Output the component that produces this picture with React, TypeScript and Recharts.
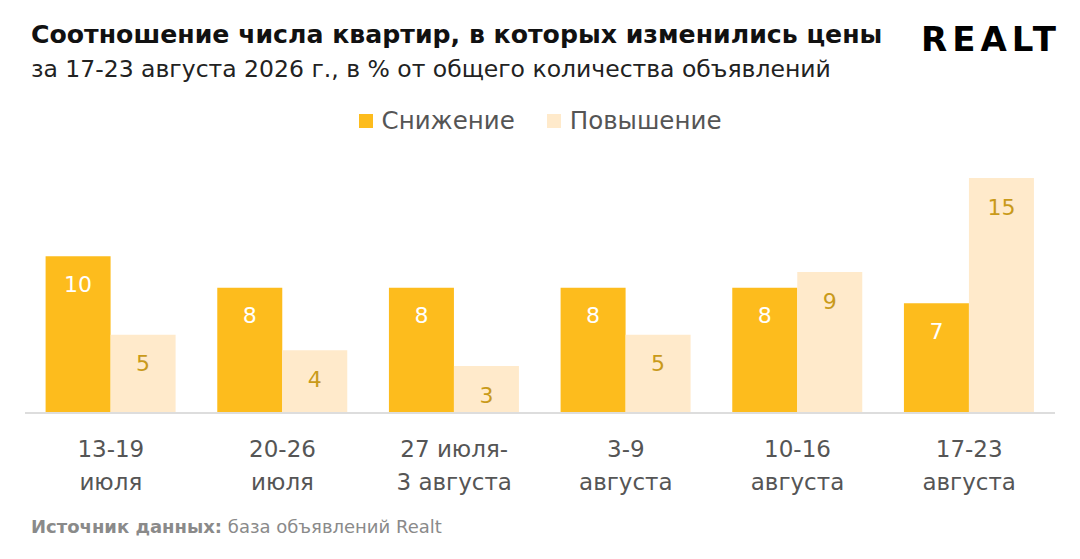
import React from "react"
import { BarChart, Bar, XAxis, YAxis, LabelList } from "recharts"

const periodTop = ["13-19", "20-26", "27 июля-", "3-9", "10-16", "17-23"]
const periodBottom = ["июля", "июля", "3 августа", "августа", "августа", "августа"]
const decrease = [10, 8, 8, 8, 8, 7]
const increase = [5, 4, 3, 5, 9, 15]

const data = periodTop.map((p, i) => ({
  period: p,
  sub: periodBottom[i],
  decrease: decrease[i],
  increase: increase[i],
}))

const ORANGE = "#fdbc1d"
const LIGHT = "#ffeacb"
const FONT = "'DejaVu Sans', sans-serif"

function PeriodTick(props: any) {
  const { x, y, index } = props
  return (
    <g transform={`translate(${x},${y})`}>
      <text textAnchor="middle" y={36} fontSize={23} fill="#555" fontFamily={FONT}>
        {periodTop[index]}
      </text>
      <text textAnchor="middle" y={69} fontSize={23} fill="#555" fontFamily={FONT}>
        {periodBottom[index]}
      </text>
    </g>
  )
}

function LegendRow() {
  const items = [
    { label: "Снижение", color: ORANGE },
    { label: "Повышение", color: LIGHT },
  ]
  return (
    <div
      style={{
        position: "absolute",
        top: 106,
        left: 0,
        width: 1080,
        display: "flex",
        justifyContent: "center",
        gap: 32,
      }}
    >
      {items.map((it) => (
        <div key={it.label} style={{ display: "flex", alignItems: "center", gap: 9 }}>
          <span style={{ width: 14, height: 14, background: it.color, display: "inline-block" }} />
          <span style={{ fontSize: 24.5, color: "#555" }}>{it.label}</span>
        </div>
      ))}
    </div>
  )
}

export default function App() {
  return (
    <div style={{ position: "absolute", left: 0, top: 0, width: 1080, height: 559, background: "#fff", fontFamily: FONT }}>
      <div style={{ position: "absolute", left: 31, top: 20, fontSize: 25.2, fontWeight: 700, color: "#111", whiteSpace: "nowrap" }}>
        Соотношение числа квартир, в которых изменились цены
      </div>
      <div style={{ position: "absolute", left: 31, top: 55, fontSize: 23.5, color: "#222", whiteSpace: "nowrap" }}>
        за 17-23 августа 2026 г., в % от общего количества объявлений
      </div>
      <div
        style={{
          position: "absolute",
          left: 921,
          top: 19,
          fontSize: 34,
          fontWeight: 700,
          letterSpacing: 5,
          color: "#000",
        }}
      >
        REALT
      </div>
      <LegendRow />
      <BarChart
        width={1080}
        height={559}
        data={data}
        margin={{ top: 178, right: 25, bottom: 116, left: 25 }}
        barCategoryGap="12%"
        barGap={0}
      >
        <XAxis
          dataKey="period"
          tickLine={false}
          axisLine={{ stroke: "#dddddd", strokeWidth: 2 }}
          tick={<PeriodTick />}
          interval={0}
        />
        <YAxis hide domain={[0, 15]} />
        <Bar dataKey="decrease" name="Снижение" fill={ORANGE} isAnimationActive={false}>
          <LabelList dataKey="decrease" position="insideTop" offset={20} fill="#fff" fontSize={22} fontFamily={FONT} />
        </Bar>
        <Bar dataKey="increase" name="Повышение" fill={LIGHT} isAnimationActive={false}>
          <LabelList dataKey="increase" position="insideTop" offset={21} fill="#c99a1a" fontSize={22} fontFamily={FONT} />
        </Bar>
      </BarChart>
      <div style={{ position: "absolute", left: 31, top: 516, fontSize: 18, color: "#8a8a8a", whiteSpace: "nowrap" }}>
        <b>Источник данных:</b> база объявлений Realt
      </div>
    </div>
  )
}
